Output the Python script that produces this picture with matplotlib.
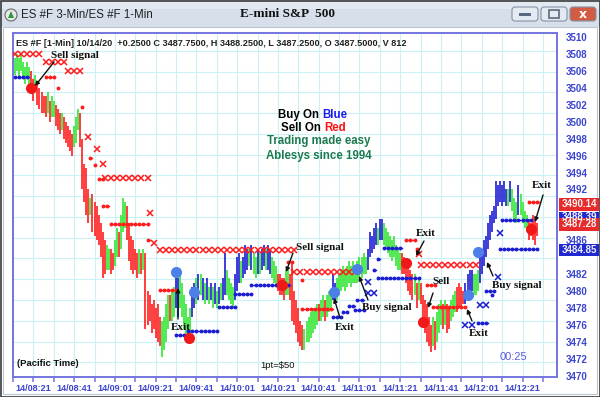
import numpy as np
import matplotlib
matplotlib.use('Agg')
import matplotlib.pyplot as plt
from matplotlib.patches import Rectangle, FancyBboxPatch, Circle, Polygon

# ---------------- data (1-min bars, index 0 = 14/08:12) ----------------
bar_high = [
 3507.5, 3508.0, 3507.5, 3508.0, 3507.0, 3506.5, 3507.0, 3506.5, 3506.0, 3505.0,
 3505.5, 3504.5, 3504.0, 3503.5, 3503.0, 3503.0, 3503.5, 3502.5, 3503.0, 3502.5,
 3502.0, 3501.5, 3501.0, 3501.0, 3500.5, 3500.0, 3499.5, 3499.0, 3498.5, 3499.5,
 3500.5, 3501.5, 3501.0, 3498.0, 3495.0, 3494.5, 3492.0, 3491.0, 3491.5, 3490.5,
 3490.0, 3489.0, 3488.0, 3487.0, 3486.0, 3485.5, 3485.0, 3485.0, 3484.5, 3486.0,
 3487.5, 3487.0, 3489.0, 3491.0, 3490.5, 3490.0, 3488.0, 3486.5, 3486.0, 3485.0,
 3484.5, 3485.0, 3484.5, 3485.0, 3484.5, 3480.0, 3479.5, 3478.5, 3479.0, 3478.0,
 3478.5, 3477.0, 3476.5, 3477.0, 3478.5, 3479.5, 3479.5, 3480.0, 3480.5, 3482.0,
 3481.5, 3482.0, 3481.0, 3479.5, 3478.5, 3477.0, 3478.0, 3480.5, 3481.0, 3481.5,
 3482.0, 3482.0, 3481.5, 3481.0, 3481.5, 3480.5, 3481.0, 3480.5, 3481.0, 3480.0,
 3480.5, 3481.0, 3481.5, 3484.5, 3482.5, 3481.5, 3481.0, 3480.5, 3482.0, 3484.0,
 3484.5, 3483.5, 3484.0, 3485.5, 3485.0, 3485.0, 3485.5, 3484.5, 3484.0, 3485.0,
 3484.5, 3485.0, 3485.5, 3485.0, 3485.5, 3485.0, 3484.0, 3483.5, 3483.0, 3482.0,
 3482.0, 3481.5, 3481.5, 3482.5, 3482.5, 3482.0, 3483.5, 3480.0, 3479.0, 3478.0,
 3476.5, 3476.0, 3475.5, 3476.5, 3477.0, 3477.5, 3478.0, 3478.0, 3478.5, 3478.5,
 3479.0, 3479.5, 3479.0, 3479.5, 3480.0, 3480.0, 3482.0, 3481.0, 3481.5, 3482.0,
 3482.5, 3483.0, 3482.5, 3483.0, 3483.5, 3483.0, 3483.5, 3483.0, 3483.5, 3484.0,
 3484.0, 3484.5, 3484.0, 3485.0, 3487.0, 3486.5, 3487.5, 3488.0, 3487.5, 3488.5,
 3488.5, 3488.0, 3487.5, 3487.0, 3486.5, 3486.0, 3486.5, 3485.5, 3485.0, 3484.5,
 3484.5, 3484.0, 3483.5, 3483.0, 3482.5, 3482.0, 3482.0, 3481.0, 3481.5, 3481.0,
 3479.5, 3479.0, 3478.5, 3477.0, 3476.0, 3477.0, 3476.5, 3477.5, 3478.5, 3479.0,
 3478.5, 3479.0, 3478.5, 3478.0, 3479.0, 3479.5, 3480.0, 3480.5, 3481.0, 3480.5,
 3480.0, 3481.0, 3482.0, 3482.5, 3482.5, 3482.0, 3482.0, 3482.5, 3484.5, 3485.0,
 3486.0, 3486.5, 3488.0, 3489.0, 3489.5, 3490.0, 3493.0, 3492.5, 3493.0, 3492.5,
 3493.0, 3492.0, 3492.0, 3493.0, 3492.0, 3491.0, 3490.5, 3492.5, 3491.5, 3490.5,
 3489.5, 3489.0, 3488.5, 3488.0, 3489.0, 3488.5, 3488.0]
bar_low = [
 3505.5, 3506.0, 3505.0, 3506.0, 3505.0, 3504.5, 3505.0, 3504.0, 3503.5, 3502.5,
 3503.5, 3502.0, 3501.5, 3501.0, 3501.0, 3500.5, 3501.0, 3500.0, 3500.5, 3500.5,
 3499.5, 3499.0, 3498.5, 3499.0, 3498.0, 3497.5, 3497.0, 3496.5, 3496.0, 3497.0,
 3497.5, 3499.0, 3497.0, 3492.0, 3490.5, 3489.0, 3488.0, 3489.0, 3487.0, 3486.5,
 3486.0, 3485.5, 3484.0, 3481.5, 3482.0, 3482.5, 3482.5, 3482.0, 3482.5, 3483.0,
 3484.0, 3484.0, 3485.0, 3487.0, 3487.5, 3486.0, 3483.5, 3482.5, 3482.0, 3482.5,
 3481.5, 3482.0, 3482.0, 3482.5, 3475.5, 3476.0, 3476.5, 3475.0, 3475.5, 3474.5,
 3474.0, 3473.5, 3472.2, 3473.0, 3474.0, 3475.5, 3476.5, 3476.5, 3477.0, 3478.0,
 3477.0, 3478.0, 3477.0, 3475.5, 3474.5, 3474.0, 3475.0, 3477.0, 3478.0, 3478.5,
 3479.0, 3479.5, 3479.0, 3478.5, 3479.0, 3478.5, 3479.0, 3478.0, 3478.5, 3478.0,
 3478.5, 3479.0, 3479.0, 3479.5, 3479.5, 3479.0, 3478.5, 3478.0, 3479.0, 3480.0,
 3481.0, 3481.0, 3481.5, 3482.0, 3482.5, 3483.0, 3482.5, 3482.0, 3481.5, 3482.0,
 3482.0, 3482.5, 3483.0, 3482.5, 3482.5, 3482.0, 3481.5, 3481.0, 3480.5, 3480.0,
 3479.5, 3479.5, 3479.0, 3479.5, 3479.5, 3479.0, 3476.5, 3476.0, 3475.0, 3474.0,
 3473.5, 3473.0, 3473.0, 3474.0, 3474.0, 3474.5, 3475.0, 3475.5, 3476.0, 3476.5,
 3476.5, 3477.0, 3476.5, 3477.0, 3477.5, 3478.0, 3479.0, 3478.5, 3479.0, 3479.5,
 3480.0, 3480.5, 3480.0, 3480.5, 3481.0, 3480.5, 3481.0, 3481.0, 3481.0, 3481.5,
 3481.5, 3482.0, 3482.0, 3482.5, 3484.0, 3484.5, 3485.0, 3485.5, 3485.5, 3486.0,
 3486.0, 3485.5, 3485.0, 3484.5, 3484.0, 3483.5, 3484.0, 3483.0, 3482.5, 3482.5,
 3482.0, 3482.0, 3481.0, 3480.0, 3479.5, 3479.0, 3479.5, 3478.0, 3479.0, 3478.5,
 3476.0, 3475.0, 3474.0, 3473.5, 3472.8, 3473.5, 3473.0, 3474.0, 3475.0, 3476.0,
 3475.5, 3476.0, 3475.0, 3475.5, 3476.5, 3477.0, 3477.5, 3477.5, 3478.0, 3478.0,
 3478.5, 3478.5, 3479.0, 3479.5, 3480.0, 3479.5, 3479.5, 3480.0, 3481.0, 3482.0,
 3483.0, 3484.0, 3485.0, 3486.0, 3487.0, 3488.0, 3488.5, 3490.0, 3490.5, 3490.0,
 3490.5, 3490.0, 3490.0, 3490.5, 3489.5, 3488.5, 3488.0, 3489.0, 3489.0, 3488.0,
 3487.5, 3487.0, 3486.0, 3486.5, 3486.0, 3485.5, 3486.5]
bar_color = ("GGGGGGGGRR" "GRRRRRGRGG" "RRRGRRRRRG" "GGRRRRRGRR" "RRRRRGGRRG"
             "GRGGGRRRRR" "RGRGRRRRRR" "RRGGGGRGGB" "BGGGGGGBBG" "BGBGBGBGBG"
             "BGBBGGGGBB" "BGBBBGBGGB" "GBBGBBGGGR" "RRRGGRRRRR" "RRGGGGGGGR"
             "GGRGGGBBGG" "GGGGGGGGGG" "GGGBBBBBGB" "BGGGGGGGGG" "RRRRRRGRGR"
             "RRRRRGRGGG" "RGRRGGGRRR" "RBBBBGGGBB" "BBBBBBBBBB" "BBGBGGGBGG"
             "GGRRRRR")

# signal dots
sig_i = [8, 79, 85.5, 88, 131, 156.5, 168, 192, 200, 222, 227, 253]
sig_p = [3504.0, 3482.3, 3474.5, 3479.9, 3480.7, 3479.9, 3482.6, 3483.3, 3476.4, 3479.5, 3484.6, 3487.3]
sig_c = "RBRBRBBRRBBR"

# stop levels: start bar, end bar, price, marker kind, colour
stop_start = [0, 15, 26, 15, 21, 33, 36, 40, 37, 39, 43, 41, 44, 43, 66, 47, 65, 68, 71, 71,
              134, 137, 141, 141, 192, 197, 198, 199, 202, 205, 252,
              0, 79, 85, 100, 108, 116, 156, 161, 164, 168, 167, 173, 173, 176, 178, 181, 178,
              221, 227, 228, 231, 234, 237, 238, 239, 238]
stop_end = [14, 25, 34, 19, 21, 33, 36, 40, 38, 39, 43, 43, 65, 46, 66, 65, 66, 70, 137, 79,
            136, 168, 141, 156, 196, 197, 198, 226, 206, 221, 257,
            7, 84, 99, 108, 116, 135, 160, 163, 167, 171, 171, 178, 175, 177, 179, 190, 198,
            226, 232, 231, 235, 234, 237, 238, 253, 256]
stop_price = [3508.0, 3507.1, 3506.0, 3505.3, 3504.0, 3501.7, 3498.2, 3496.8, 3495.7, 3494.9,
              3495.0, 3493.2, 3493.3, 3490.0, 3489.2, 3487.9, 3486.0, 3485.7, 3484.8, 3480.1,
              3483.4, 3482.3, 3481.3, 3477.9, 3486.0, 3485.0, 3484.4, 3483.1, 3480.7, 3478.1, 3490.5,
              3505.3, 3474.8, 3475.3, 3478.1, 3479.6, 3480.7, 3476.9, 3477.5, 3478.2, 3479.0,
              3477.8, 3479.8, 3481.1, 3482.5, 3483.8, 3485.1, 3481.6,
              3476.0, 3476.2, 3478.4, 3480.0, 3479.5, 3481.7, 3486.9, 3488.4, 3485.0]
stop_kind = ("xxxoooxxooxoxoxooxxo" "oxooooxxoooo" + "ooooooooooxxoooox" + "oxooxxoox")
stop_color = "R" * 31 + "B" * 26

y_ticks = list(range(3470, 3511, 2))
x_major = [9, 29, 49, 69, 89, 109, 129, 149, 169, 189, 209, 229, 249]
x_labels = ["14/08:21", "14/08:41", "14/09:01", "14/09:21", "14/09:41", "14/10:01", "14/10:21",
            "14/10:41", "14/11:01", "14/11:21", "14/11:41", "14/12:01", "14/12:21"]
x_minor = [-1, 19, 39, 59, 79, 99, 119, 139, 159, 179, 199, 219, 239, 259]

GREEN, RED, BLUE = '#33e633', '#ff1c1c', '#1c1cd2'
cmap = {'G': GREEN, 'R': RED, 'B': BLUE}
dotmap = {'R': '#f01818', 'B': '#4d7fe8'}
SPINE = '#7474e0'
LBL = '#3b45cf'

fig = plt.figure(figsize=(6, 3.97), dpi=100)
fig.patch.set_facecolor('white')

# ---------- window chrome (pixel coordinates) ----------
bg = fig.add_axes([0, 0, 1, 1], zorder=0)
bg.set_xlim(0, 600); bg.set_ylim(397, 0); bg.axis('off')
bg.add_patch(Rectangle((0, 0), 600, 27, color='#d6dfea', lw=0))
bg.add_patch(Rectangle((0, 0), 600, 9, color='#e3e9f1', lw=0))
bg.add_patch(Rectangle((0.5, 0.5), 599, 396, fill=False, ec='#3a3a3a', lw=1.2))
bg.add_patch(Rectangle((3, 27), 594, 367, fill=False, ec='#b9c6d6', lw=0.8))
bg.add_patch(Circle((11, 15), 6, fc='#e8e8e8', ec='#6a6a6a', lw=0.8))
bg.add_patch(Polygon([[8, 18], [14, 18], [11, 11]], closed=True, fc='#2f9a3a', ec='none'))
bg.text(21, 15, "ES #F 3-Min/ES #F 1-Min", fontsize=8.3, family='Liberation Sans',
        color='#222222', va='center', ha='left')
bg.text(288, 14, "E-mini S&P  500", fontsize=9.5, family='Liberation Serif',
        fontweight='bold', color='#111111', va='center', ha='center')
for x0, fc in [(512, '#e4eaf1'), (541, '#e4eaf1'), (570, '#d25b43')]:
    bg.add_patch(FancyBboxPatch((x0, 7), 26, 14, boxstyle='round,pad=0,rounding_size=3',
                                fc=fc, ec='#8593a6', lw=0.8))
bg.add_patch(Rectangle((519, 13), 12, 3, fc='#5a6a80', ec='none'))
bg.add_patch(Rectangle((549, 10), 10, 8, fill=False, ec='#5a6a80', lw=1.2))
bg.text(583, 14, "x", fontsize=9, fontweight='bold', color='white', ha='center', va='center',
        family='DejaVu Sans')

# ---------- main chart ----------
ax = fig.add_axes([13 / 600, 20 / 397, 544 / 600, 344 / 397], zorder=1)
ax.set_facecolor('white')
ax.set_xlim(-0.8, 265.9)
ax.set_ylim(3469.86, 3510.47)

for y in np.arange(3471.6, 3510.5, 2.45):
    ax.axhline(y, color='#c9f1f6', lw=0.8, zorder=0)
for x in x_minor + x_major:
    ax.axvline(x, color='#c9f1f6', lw=0.8, zorder=0)

idx = np.arange(len(bar_high))
ax.vlines(idx, bar_low, bar_high, colors=[cmap[c] for c in bar_color], lw=1.2, zorder=2)

for s, e, p, k, c in zip(stop_start, stop_end, stop_price, stop_kind, stop_color):
    col = RED if c == 'R' else BLUE
    if k == 'x':
        xs = np.arange(s, e + 1, 3)
        ax.plot(xs, np.full(len(xs), p), ls='none', marker='x', ms=4.6, mew=1.1,
                color=col, zorder=3)
    else:
        xs = np.arange(s, e + 1)
        ax.plot(xs, np.full(len(xs), p), ls='-', lw=1.0, color=col, zorder=3)
        xd = np.arange(s, e + 1, 2)
        ax.plot(xd, np.full(len(xd), p), ls='none', marker='o', ms=2.8, mew=0,
                color=col, zorder=3)

for xi, p, c in zip(sig_i, sig_p, sig_c):
    ax.plot([xi], [p], marker='o', ms=8, mew=0, color=dotmap[c], zorder=4)

for sp in ['left', 'top', 'right', 'bottom']:
    ax.spines[sp].set_color(SPINE)
    ax.spines[sp].set_linewidth(1.4)

ax.yaxis.tick_right()
ax.set_yticks(y_ticks)
ax.set_yticklabels([("" if v in (3484, 3488, 3490) else str(v)) for v in y_ticks])
ax.tick_params(axis='y', length=0, pad=6, labelsize=7, labelcolor=LBL)
for t in ax.get_yticklabels():
    t.set_fontweight('bold'); t.set_family('Liberation Sans')

ax.set_xticks(x_major)
ax.set_xticklabels(x_labels)
ax.set_xticks(x_minor, minor=True)
ax.tick_params(axis='x', which='both', length=3.5, width=1.1, color=SPINE, direction='out',
               pad=1.5, labelsize=6.5, labelcolor=LBL)
for t in ax.get_xticklabels():
    t.set_fontweight('bold'); t.set_family('Liberation Sans')

# ---------- overlay texts (pixel coordinates) ----------
ov = fig.add_axes([0, 0, 1, 1], zorder=3)
ov.set_xlim(0, 600); ov.set_ylim(397, 0); ov.axis('off'); ov.patch.set_alpha(0)

ov.text(16, 43, "ES #F [1-Min] 10/14/20  +0.2500 C 3487.7500, H 3488.2500, L 3487.2500, "
        "O 3487.5000, V 812", fontsize=6.6, fontweight='bold', family='Liberation Sans',
        color='#222222', va='center', ha='left')
ov.text(17, 363, "(Pacific Time)", fontsize=6.8, fontweight='bold', family='Liberation Sans',
        color='#111111', va='center')
ov.text(260, 366, "1pt=$50", fontsize=6.8, family='Liberation Sans', color='#111111', va='center')
ov.text(500, 357, "00:25", fontsize=8, family='Liberation Sans', color='#5a5ad8', va='center')

sf = dict(fontsize=8.3, fontweight='bold', family='Liberation Sans', va='center')
ov.text(319, 115, "Buy On", ha='right', color='black', **sf)
ov.text(322, 115, "Blue", ha='left', color='#1c1cf0', **sf)
ov.text(321, 128, "Sell On", ha='right', color='black', **sf)
ov.text(324, 128, "Red", ha='left', color='#ff1010', **sf)
ov.text(319, 141, "Trading made easy", ha='center', color='#1b7a4e', **sf)
ov.text(319, 156, "Ablesys since 1994", ha='center', color='#1b7a4e', **sf)

ann = [("Sell signal", 51, 55, 'left', (54, 62), (35, 86)),
       ("Exit", 181, 327, 'center', (178, 319), (178, 288)),
       ("Sell signal", 296, 247, 'left', (293, 253), (286, 272)),
       ("Exit", 345, 328, 'center', (340, 318), (334, 298)),
       ("Buy signal", 362, 307, 'left', (368, 300), (359, 276)),
       ("Exit", 426, 233, 'center', (424, 241), (416, 256)),
       ("Sell", 441, 282, 'center', (433, 293), (428, 308)),
       ("Exit", 479, 334, 'center', (472, 321), (467, 309)),
       ("Buy signal", 492, 285, 'left', (493, 276), (487, 262)),
       ("Exit", 542, 186, 'center', (543, 195), (535, 222))]
for txt, tx, ty, ha, p0, p1 in ann:
    ov.text(tx, ty, txt, fontsize=8, fontweight='bold', family='Liberation Serif',
            color='#111111', ha=ha, va='center')
    ov.annotate("", xy=p1, xytext=p0,
                arrowprops=dict(arrowstyle='-|>', color='#111111', lw=1.0, mutation_scale=6,
                                shrinkA=0, shrinkB=0))

# price boxes on the right scale (the blue 3488.39 box is half hidden)
boxes = [("3490.14", 204, 13, '#e82a2a'), ("3488.39", 214.5, 6, '#2028d2'),
         ("3487.28", 224, 13, '#e82a2a'), ("3484.85", 250, 12, '#2028d2')]
for txt, yc, h, col in boxes:
    r = Rectangle((559, yc - h / 2), 40, h, fc=col, ec='none')
    ov.add_patch(r)
    t = ov.text(562, yc if h > 8 else yc + 2.5, txt, fontsize=7, fontweight='bold',
                family='Liberation Sans', color='#f4f4f4', va='center', ha='left')
    t.set_clip_path(r)

fig.savefig('out.png', dpi=100)
